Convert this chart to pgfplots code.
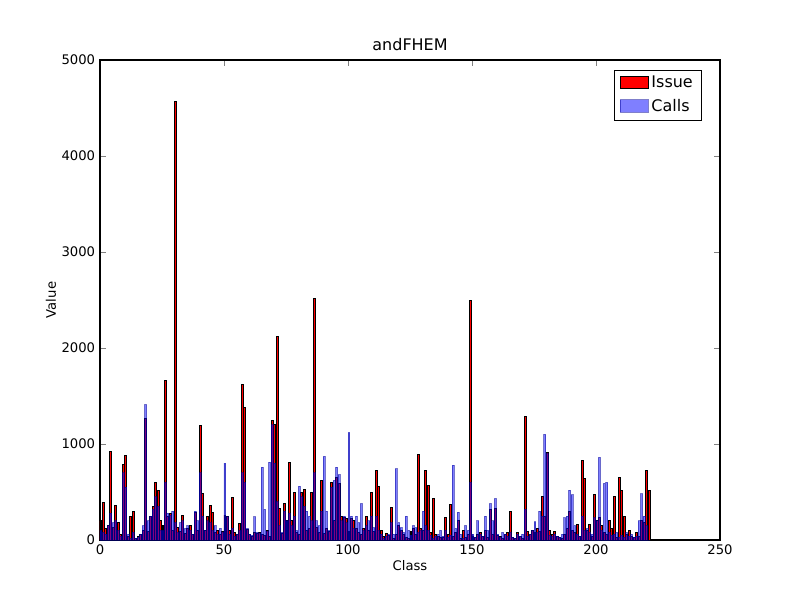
\documentclass[border=0pt]{standalone}
\usepackage{pgfplots}
\pgfplotsset{compat=1.18}
\usepackage{fontspec}
\setmainfont{DejaVu Sans}
\begin{document}
\begin{tikzpicture}
\path[use as bounding box] (-72pt,-43.2pt) rectangle (504pt,388.8pt);
\begin{axis}[
  at={(0,0)}, anchor=south west, scale only axis,
  width=446.4pt, height=345.6pt,
  xmin=0, xmax=250, ymin=0, ymax=5000,
  xtick={0,50,...,250}, ytick={0,1000,...,5000},
  tick align=inside, tick pos=both,
  /pgf/number format/assume math mode=true,
  /pgf/number format/1000 sep={},
  ticklabel style={font=\fontsize{9.5}{11}\selectfont},
  label style={font=\fontsize{9.5}{11}\selectfont},
  title style={font=\fontsize{11.5}{13}\selectfont, yshift=-3pt},
  title={andFHEM}, xlabel={Class}, ylabel={Value},
  xlabel style={yshift=3pt}, ylabel style={yshift=-3pt},
  legend style={at={(0.97,0.98)}, anchor=north east, font=\fontsize{11.5}{13}\selectfont, draw=black, row sep=2pt, inner xsep=4pt, nodes={inner ysep=2.5pt}},
  legend image code/.code={\draw[#1] (0pt,-4pt) rectangle (20pt,5pt);},
  legend cell align=left,
  axis line style={line width=0.8pt},
]
\addplot[ybar, bar width=0.8, bar shift=0.4, fill=red, draw=black, line width=0.7pt] coordinates {
(0,200)(1,390)(2,120)(3,150)(4,920)(5,130)(6,360)(7,180)(8,60)(9,790)(10,880)(11,40)(12,240)(13,300)(14,20)(15,40)(16,60)(17,100)(18,1270)(19,90)
(20,240)(21,350)(22,600)(23,520)(24,200)(25,150)(26,1660)(27,250)(28,280)(29,100)(30,4570)(31,130)(32,90)(33,260)(34,70)(35,120)(36,150)(37,60)(38,290)(39,100)
(40,1190)(41,480)(42,100)(43,240)(44,360)(45,290)(46,80)(47,100)(48,60)(49,90)(50,260)(51,250)(52,100)(53,440)(54,80)(55,60)(56,170)(57,1620)(58,1380)(59,110)
(60,60)(61,40)(62,80)(63,70)(64,80)(65,60)(66,50)(67,100)(68,40)(69,1250)(70,1200)(71,2120)(72,330)(73,70)(74,380)(75,200)(76,810)(77,200)(78,500)(79,80)
(80,60)(81,490)(82,530)(83,100)(84,120)(85,500)(86,2520)(87,130)(88,80)(89,620)(90,70)(91,120)(92,90)(93,600)(94,200)(95,650)(96,590)(97,250)(98,230)(99,220)
(100,90)(101,220)(102,200)(103,120)(104,80)(105,60)(106,120)(107,250)(108,100)(109,500)(110,90)(111,720)(112,560)(113,100)(114,40)(115,70)(116,50)(117,340)(118,20)(119,60)
(120,150)(121,100)(122,60)(123,30)(124,20)(125,90)(126,120)(127,60)(128,890)(129,120)(130,100)(131,720)(132,570)(133,80)(134,430)(135,60)(136,40)(137,30)(138,30)(139,230)
(140,60)(141,370)(142,40)(143,80)(144,200)(145,20)(146,100)(147,30)(148,60)(149,2500)(150,40)(151,30)(152,60)(153,80)(154,40)(155,100)(156,30)(157,320)(158,60)(159,330)
(160,50)(161,40)(162,20)(163,60)(164,80)(165,300)(166,30)(167,20)(168,80)(169,40)(170,20)(171,1290)(172,90)(173,60)(174,100)(175,80)(176,120)(177,90)(178,450)(179,250)
(180,910)(181,100)(182,60)(183,90)(184,40)(185,30)(186,20)(187,60)(188,120)(189,300)(190,100)(191,80)(192,160)(193,40)(194,830)(195,640)(196,100)(197,160)(198,40)(199,470)
(200,200)(201,230)(202,150)(203,80)(204,60)(205,200)(206,120)(207,450)(208,30)(209,650)(210,520)(211,250)(212,60)(213,100)(214,40)(215,30)(216,80)(217,40)(218,200)(219,180)
(220,720)(221,520)};
\addlegendentry{Issue}
\addplot[ybar, bar width=0.8, bar shift=0.4, fill=blue, draw=black!40!blue, line width=0.7pt, opacity=0.5] coordinates {
(0,100)(1,80)(2,60)(3,150)(4,280)(5,180)(6,200)(7,100)(8,40)(9,700)(10,550)(11,60)(12,20)(13,80)(14,20)(15,30)(16,60)(17,150)(18,1410)(19,200)
(20,250)(21,320)(22,450)(23,350)(24,100)(25,100)(26,600)(27,280)(28,260)(29,300)(30,180)(31,80)(32,180)(33,200)(34,120)(35,150)(36,100)(37,60)(38,300)(39,200)
(40,700)(41,250)(42,100)(43,200)(44,180)(45,100)(46,150)(47,60)(48,120)(49,80)(50,800)(51,240)(52,60)(53,120)(54,40)(55,60)(56,100)(57,700)(58,600)(59,120)
(60,60)(61,50)(62,240)(63,80)(64,70)(65,760)(66,320)(67,90)(68,810)(69,1200)(70,800)(71,400)(72,150)(73,80)(74,300)(75,200)(76,280)(77,150)(78,250)(79,100)
(80,560)(81,450)(82,350)(83,300)(84,250)(85,200)(86,700)(87,200)(88,150)(89,300)(90,870)(91,300)(92,100)(93,550)(94,620)(95,760)(96,680)(97,200)(98,250)(99,180)
(100,1120)(101,250)(102,120)(103,250)(104,180)(105,380)(106,100)(107,150)(108,200)(109,250)(110,130)(111,250)(112,100)(113,60)(114,20)(115,40)(116,60)(117,180)(118,60)(119,740)
(120,180)(121,130)(122,80)(123,250)(124,100)(125,50)(126,150)(127,130)(128,80)(129,100)(130,300)(131,150)(132,100)(133,50)(134,20)(135,40)(136,60)(137,100)(138,40)(139,100)
(140,30)(141,50)(142,780)(143,120)(144,290)(145,60)(146,20)(147,150)(148,100)(149,600)(150,60)(151,30)(152,200)(153,60)(154,40)(155,250)(156,100)(157,380)(158,200)(159,430)
(160,60)(161,30)(162,80)(163,60)(164,40)(165,80)(166,30)(167,20)(168,60)(169,40)(170,60)(171,320)(172,40)(173,60)(174,100)(175,190)(176,80)(177,300)(178,250)(179,1100)
(180,900)(181,50)(182,40)(183,60)(184,40)(185,30)(186,60)(187,230)(188,250)(189,520)(190,470)(191,150)(192,60)(193,40)(194,250)(195,100)(196,120)(197,80)(198,60)(199,230)
(200,200)(201,860)(202,100)(203,590)(204,600)(205,80)(206,50)(207,60)(208,80)(209,30)(210,50)(211,30)(212,80)(213,40)(214,60)(215,30)(216,40)(217,200)(218,480)(219,250)
(220,150)(221,0)};
\addlegendentry{Calls}
\end{axis}
\end{tikzpicture}
\end{document}
